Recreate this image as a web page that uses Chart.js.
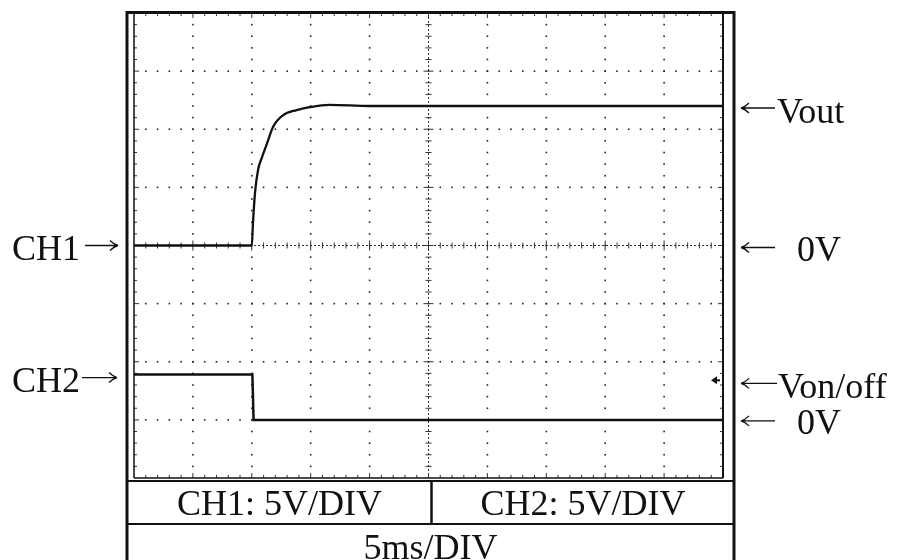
<!DOCTYPE html>
<html>
<head>
<meta charset="utf-8">
<script src="https://cdn.jsdelivr.net/npm/chart.js@4/dist/chart.umd.min.js"></script>
<style>
  html, body { margin: 0; padding: 0; background: #fff; }
  #wrap { position: relative; width: 908px; height: 560px; overflow: hidden; }
  #scope { position: absolute; left: 0; top: 0; }
  .lbl {
    position: absolute;
    font-family: "Liberation Serif", "Times New Roman", serif;
    font-size: 36px;
    line-height: 36px;
    color: #111;
    white-space: pre;
  }
  .cell { text-align: center; }
</style>
</head>
<body>
<div id="wrap">
  <canvas id="scope" width="908" height="560"></canvas>
  <div class="lbl" style="left:12px; top:230px;">CH1</div>
  <div class="lbl" style="left:12px; top:362px;">CH2</div>
  <div class="lbl" style="left:777px; top:93px;">Vout</div>
  <div class="lbl" style="left:797px; top:231px;">0V</div>
  <div class="lbl" style="left:778px; top:368px;">Von/off</div>
  <div class="lbl" style="left:797px; top:404px;">0V</div>
  <div class="lbl cell" style="left:127px; width:305px; top:485px;">CH1: 5V/DIV</div>
  <div class="lbl cell" style="left:432px; width:302px; top:485px;">CH2: 5V/DIV</div>
  <div class="lbl cell" style="left:127px; width:607px; top:529px;">5ms/DIV</div>
</div>
<script>
// time axis: 5 ms/div, 10 divisions
const timeDivs = [0, 5, 10, 15, 20, 25, 30, 35, 40, 45, 50];
// CH1 volts per div: 5 V, 8 divisions, 0 V at centre
const voltDivs = [-20, -15, -10, -5, 0, 5, 10, 15, 20];

// CH1: output voltage (V) vs time (ms)
const ch1Time = [0, 10.0, 10.1, 10.27, 10.53, 10.87, 11.3, 11.8, 12.65, 13.8, 14.9, 16.6, 20, 30, 40, 50];
const ch1Volts = [0, 0, 1.95, 4.5, 6.5, 7.6, 8.8, 10.2, 11.2, 11.65, 11.9, 12.1, 12.0, 12.0, 12.0, 12.0];

// CH2: on/off control (V) vs time (ms)
const ch2Time = [0, 10.05, 10.15, 50];
const ch2Volts = [3.9, 3.9, 0, 0];

// CH2 trigger marker level (V)
const ch2Marker = 3.4;

function toPoints(xs, ys) {
  return xs.map((t, i) => ({ x: t, y: ys[i] }));
}

// thin pointer arrow like the serif glyph, head at x2
function arrow(ctx, x1, x2, y) {
  const d = x2 > x1 ? 1 : -1;
  ctx.save();
  ctx.strokeStyle = "#111";
  ctx.lineWidth = 1.3;
  ctx.beginPath();
  ctx.moveTo(x1, y); ctx.lineTo(x2, y);
  ctx.moveTo(x2 - d * 8, y - 5); ctx.quadraticCurveTo(x2 - d * 4, y - 1, x2, y);
  ctx.moveTo(x2 - d * 8, y + 5); ctx.quadraticCurveTo(x2 - d * 4, y + 1, x2, y);
  ctx.stroke();
  ctx.restore();
}

const scopeScreen = {
  id: "scopeScreen",
  beforeDatasetsDraw(chart) {
    const { ctx, chartArea: a, scales } = chart;
    const x = scales.x, y = scales.yCh1;
    const tMin = timeDivs[0], tMax = timeDivs[timeDivs.length - 1];
    const vMin = voltDivs[0], vMax = voltDivs[voltDivs.length - 1];
    ctx.save();
    ctx.fillStyle = "#222";
    // dotted graticule, one dot per fifth of a division
    timeDivs.slice(1, -1).forEach(t => {
      if (t === 25) return;
      const px = x.getPixelForValue(t);
      for (let v = vMin + 1; v < vMax; v++) {
        ctx.fillRect(px - 0.8, y.getPixelForValue(v) - 0.8, 1.6, 1.6);
      }
    });
    voltDivs.slice(1, -1).forEach(v => {
      if (v === 0) return;
      const py = y.getPixelForValue(v);
      for (let t = tMin + 1; t < tMax; t++) {
        ctx.fillRect(x.getPixelForValue(t) - 0.8, py - 0.8, 1.6, 1.6);
      }
    });
    // centre axes with small ticks
    const cx = x.getPixelForValue(25), cy = y.getPixelForValue(0);
    ctx.strokeStyle = "#333";
    ctx.lineWidth = 1;
    ctx.setLineDash([2, 2]);
    ctx.beginPath();
    ctx.moveTo(a.left, cy); ctx.lineTo(a.right, cy);
    ctx.moveTo(cx, a.top); ctx.lineTo(cx, a.bottom);
    ctx.stroke();
    ctx.setLineDash([]);
    ctx.beginPath();
    for (let t = tMin + 1; t < tMax; t++) {
      const px = x.getPixelForValue(t);
      const h = t % 5 === 0 ? 5 : 3;
      ctx.moveTo(px, cy - h); ctx.lineTo(px, cy + h);
      // bottom and top edge ticks
      ctx.moveTo(px, a.bottom); ctx.lineTo(px, a.bottom - h);
      ctx.moveTo(px, a.top); ctx.lineTo(px, a.top + h);
    }
    for (let v = vMin + 1; v < vMax; v++) {
      const py = y.getPixelForValue(v);
      const w = v % 5 === 0 ? 5 : 3;
      ctx.moveTo(cx - w, py); ctx.lineTo(cx + w, py);
      ctx.moveTo(a.left, py); ctx.lineTo(a.left + w, py);
      ctx.moveTo(a.right, py); ctx.lineTo(a.right - w, py);
    }
    ctx.stroke();
    ctx.restore();
  },
  afterDraw(chart) {
    const { ctx, chartArea: a, scales } = chart;
    const H = chart.height;
    const outL = a.left - 7, outR = a.right + 11;
    const tableTop = a.bottom + 3, rowDiv = a.bottom + 46;
    const midX = scales.x.getPixelForValue(25) + 3;
    ctx.save();
    ctx.strokeStyle = "#111";
    const line = (x1, y1, x2, y2, w) => {
      ctx.lineWidth = w;
      ctx.beginPath(); ctx.moveTo(x1, y1); ctx.lineTo(x2, y2); ctx.stroke();
    };
    // screen edges
    line(a.left, a.top, a.left, a.bottom, 1.5);
    line(a.right, a.top, a.right, a.bottom, 2);
    line(a.left, a.bottom, a.right, a.bottom, 1.5);
    // outer frame
    line(outL - 1, a.top - 0.5, outR + 1, a.top - 0.5, 3);
    line(outL, a.top - 2, outL, H, 3);
    line(outR, a.top - 2, outR, H, 3);
    // readout table
    line(outL, tableTop, outR, tableTop, 2);
    line(outL, rowDiv, outR, rowDiv, 2);
    line(midX, tableTop, midX, rowDiv, 2.5);
    // CH2 level marker
    const my = scales.yCh2.getPixelForValue(ch2Marker);
    const mx = a.right - 12;
    ctx.fillStyle = "#111";
    ctx.beginPath();
    ctx.moveTo(mx, my); ctx.lineTo(mx + 6, my - 4); ctx.lineTo(mx + 6, my + 4);
    ctx.closePath(); ctx.fill();
    line(mx + 5, my, a.right - 3, my, 2);
    ctx.restore();

    // pointer arrows beside the labels
    const y1 = scales.yCh1, y2 = scales.yCh2;
    arrow(ctx, 85, 118, y1.getPixelForValue(0));
    arrow(ctx, 82, 117, y2.getPixelForValue(ch2Volts[0]) + 3);
    arrow(ctx, 775, 741, y1.getPixelForValue(ch1Volts[ch1Volts.length - 1]) + 2);
    arrow(ctx, 775, 741, y1.getPixelForValue(0) + 2);
    arrow(ctx, 777, 741, y2.getPixelForValue(ch2Marker) + 3);
    arrow(ctx, 775, 741, y2.getPixelForValue(0) + 1);
  }
};

new Chart(document.getElementById("scope"), {
  type: "line",
  data: {
    datasets: [
      {
        label: "CH1",
        data: toPoints(ch1Time, ch1Volts),
        yAxisID: "yCh1",
        borderColor: "#111",
        borderWidth: 2.3,
        pointRadius: 0,
        cubicInterpolationMode: "monotone"
      },
      {
        label: "CH2",
        data: toPoints(ch2Time, ch2Volts),
        yAxisID: "yCh2",
        borderColor: "#111",
        borderWidth: 2.5,
        pointRadius: 0,
        tension: 0
      }
    ]
  },
  options: {
    responsive: false,
    animation: false,
    devicePixelRatio: 1,
    layout: { padding: { left: 134, right: 185, top: 13, bottom: 82 } },
    plugins: { legend: { display: false }, tooltip: { enabled: false } },
    scales: {
      x: { type: "linear", min: 0, max: 50, display: false },
      yCh1: { type: "linear", min: -20, max: 20, display: false },
      yCh2: { type: "linear", min: -5, max: 35, display: false }
    }
  },
  plugins: [scopeScreen]
});
</script>
</body>
</html>
